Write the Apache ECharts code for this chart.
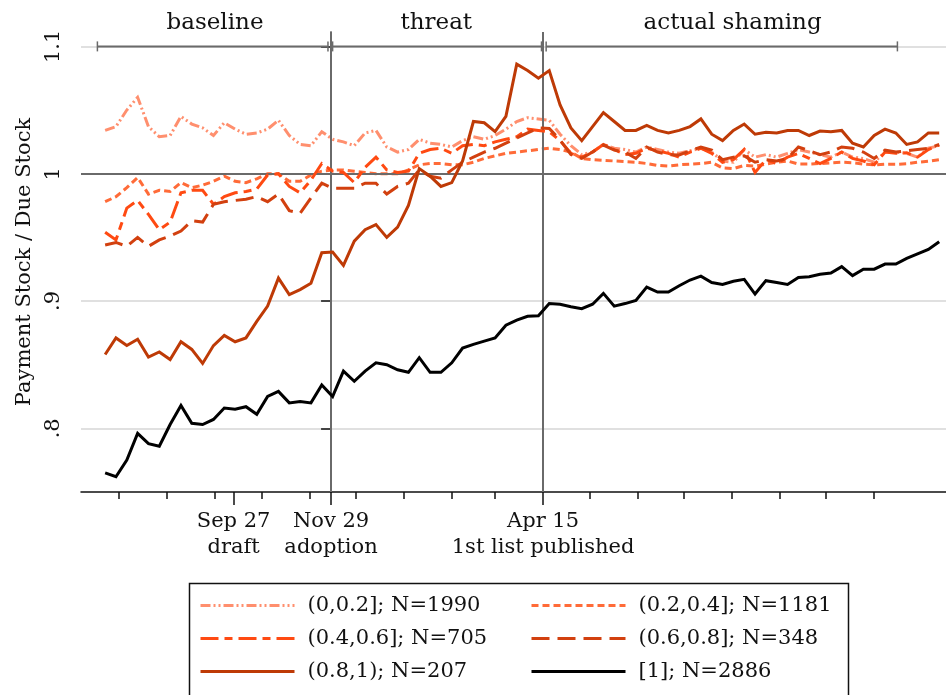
<!DOCTYPE html>
<html>
<head>
<meta charset="utf-8">
<script src="https://cdn.jsdelivr.net/npm/echarts@6/dist/echarts.min.js"></script>
<style>
  html, body { margin: 0; padding: 0; background: #fff; }
  #chart { width: 946px; height: 695px; }
</style>
</head>
<body>
<div id="chart"></div>
<script>
// Weeks relative to the adoption week (week 0 = Nov 30 observation)
const weeks = [-21,-20,-19,-18,-17,-16,-15,-14,-13,-12,-11,-10,-9,-8,-7,-6,-5,-4,-3,-2,-1,
  0,1,2,3,4,5,6,7,8,9,10,11,12,13,14,15,16,17,18,19,20,21,22,23,24,25,26,27,28,29,30,
  31,32,33,34,35,36,37,38,39,40,41,42,43,44,45,46,47,48,49,50,51,52,53,54,55,56];

// Payment stock / due stock by prior payment share group
const share00to02 = [1.034,1.037,1.050,1.060,1.037,1.029,1.030,1.045,1.039,1.036,1.030,1.040,1.035,1.031,1.032,1.035,1.042,1.030,1.023,1.022,1.033,1.027,
  1.025,1.022,1.032,1.034,1.021,1.017,1.019,1.027,1.024,1.023,1.021,1.026,
  1.029,1.027,1.030,1.035,1.041,1.044,1.043,1.042,1.031,1.022,1.015,
  1.017,1.023,1.020,1.019,1.017,1.021,1.019,1.017,1.016,1.018,1.020,1.017,
  1.010,1.009,1.019,1.013,1.015,1.013,1.016,1.019,1.017,1.015,1.013,1.017,1.013,1.012,1.009,1.017,1.017,1.016,1.013,1.020,1.022];
const share02to04 = [0.978,0.982,0.989,0.997,0.984,0.987,0.986,0.993,0.989,0.991,0.994,0.998,0.994,0.993,0.996,1.000,1.000,0.994,0.994,0.999,1.002,1.003,
  1.003,1.002,1.001,1.000,1.000,1.000,1.003,1.007,1.008,1.008,1.007,1.007,
  1.009,1.012,1.014,1.016,1.017,1.018,1.019,1.020,1.019,1.017,1.012,
  1.011,1.0105,1.010,1.0095,1.009,1.008,1.0065,1.006,1.007,1.0075,1.008,1.009,
  1.0045,1.004,1.0065,1.006,1.0075,1.009,1.010,1.0076,1.0076,1.008,1.0085,1.009,1.0086,1.0076,1.007,1.0074,1.0074,1.0078,1.009,1.0098,1.011];
const share04to06 = [0.954,0.948,0.973,0.979,0.968,0.956,0.962,0.985,0.987,0.987,0.976,0.982,0.985,0.986,0.988,0.999,1.000,0.990,0.985,0.995,1.008,1.002,
  1.001,0.993,1.005,1.013,1.003,1.001,1.002,1.016,1.019,1.020,1.016,1.022,
  1.023,1.022,1.025,1.027,1.029,1.035,1.034,1.033,1.026,1.016,1.013,
  1.017,1.023,1.019,1.015,1.016,1.020,1.018,1.016,1.013,1.017,1.020,1.016,
  1.009,1.011,1.019,1.001,1.011,1.008,1.013,1.016,1.012,1.008,1.012,1.017,1.012,1.010,1.007,1.017,1.016,1.0165,1.013,1.019,1.0225];
const share06to08 = [0.944,0.946,0.943,0.950,0.943,0.948,0.951,0.955,0.963,0.962,0.976,0.978,0.979,0.980,0.982,0.978,0.984,0.971,0.969,0.981,0.9925,0.9885,
  0.9885,0.9885,0.9925,0.9925,0.984,0.990,0.9925,1.003,0.998,0.9965,1.003,1.009,
  1.013,1.017,1.020,1.024,1.028,1.032,1.036,1.0355,1.0265,1.015,1.012,
  1.017,1.0225,1.0185,1.017,1.012,1.021,1.017,1.015,1.0147,1.018,1.021,1.0185,
  1.011,1.013,1.014,1.009,1.011,1.010,1.012,1.021,1.018,1.015,1.017,1.021,1.020,1.017,1.012,1.0185,1.017,1.018,1.019,1.020,1.023];
const share08to1 = [0.858,0.871,0.865,0.870,0.856,0.860,0.854,0.868,0.862,0.851,0.865,0.873,0.868,0.871,0.884,0.896,0.918,0.905,0.909,0.914,0.938,0.9385,
  0.928,0.947,0.956,0.960,0.950,0.958,0.975,1.004,0.998,0.990,0.993,1.010,
  1.041,1.040,1.033,1.045,1.086,1.081,1.075,1.081,1.054,1.036,1.026,
  1.037,1.048,1.041,1.034,1.034,1.038,1.034,1.032,1.034,1.037,1.043,1.031,
  1.026,1.034,1.039,1.031,1.0325,1.032,1.034,1.034,1.030,1.0335,1.033,1.034,1.024,1.021,1.030,1.035,1.032,1.023,1.025,1.032,1.032];
const share1 = [0.765,0.762,0.775,0.796,0.788,0.786,0.803,0.818,0.804,0.803,0.807,0.816,0.815,0.817,0.811,0.825,0.829,0.820,0.821,0.820,0.834,0.825,
  0.845,0.837,0.845,0.8515,0.850,0.846,0.844,0.8555,0.844,0.844,0.8515,0.863,
  0.866,0.8685,0.871,0.881,0.885,0.888,0.8885,0.898,0.8975,0.8955,0.894,
  0.8975,0.906,0.896,0.898,0.9005,0.911,0.907,0.907,0.912,0.9165,0.9195,0.9145,
  0.913,0.9155,0.917,0.9055,0.916,0.9145,0.913,0.9185,0.919,0.921,0.922,0.927,0.920,0.925,0.925,0.929,0.929,0.9335,0.937,0.9405,0.9465];

const groupNames = ['(0,0.2]; N=1990', '(0.2,0.4]; N=1181', '(0.4,0.6]; N=705',
                    '(0.6,0.8]; N=348', '(0.8,1); N=207', '[1]; N=2886'];

// Time axis in days relative to the Nov 29 adoption date
const monthTickDays = [-137,-106,-75,-45,-14,16,47,78,106,137,167,198,228,259,290,320,351];
const eventDays = [-63, 0, 137];
const eventLabels = ['Sep 27\ndraft', 'Nov 29\nadoption', 'Apr 15\n1st list published'];

const yTicks = [0.8, 0.9, 1, 1.1];
const yTickLabels = ['.8', '.9', '1', '1.1'];
const referenceLevel = 1;

const periods = [
  { label: 'baseline',       from: -151, to: -2,  labelAt: -75 },
  { label: 'threat',         from: 1,    to: 136, labelAt: 68 },
  { label: 'actual shaming', from: 139,  to: 366, labelAt: 259.5 }
];
const periodLevel = 1.1;

const FONT = '"DejaVu Serif", "Liberation Serif", serif';
const DAYS_PER_WEEK = 7, WEEK_DAY_SHIFT = 1;
const xDays = weeks.map(w => w * DAYS_PER_WEEK + WEEK_DAY_SHIFT);
const pair = vals => vals.map((v, i) => [xDays[i], v]);

const styles = [
  { color: '#FF8F6E', type: [10, 3, 2, 3, 2, 3] },
  { color: '#FF6B38', type: [7, 4] },
  { color: '#FF4A12', type: [18, 6, 8, 6] },
  { color: '#D2400F', type: [18, 8] },
  { color: '#BE3A06', type: 'solid' },
  { color: '#000000', type: 'solid' }
];
const values = [share00to02, share02to04, share04to06, share06to08, share08to1, share1];

const xMin = -161.6, xMax = 397.4;

const chart = echarts.init(document.getElementById('chart'), null, { renderer: 'canvas' });

const lineSeries = values.map((vals, i) => ({
  name: groupNames[i],
  type: 'line',
  data: pair(vals),
  showSymbol: false,
  symbol: 'none',
  z: 3 + i,
  lineStyle: { width: 3, color: styles[i].color, type: styles[i].type, cap: 'butt', join: 'miter' },
  itemStyle: { color: styles[i].color },
  emphasis: { disabled: true }
}));

const legendCommon = {
  orient: 'vertical', top: 593, padding: 0,
  itemWidth: 94, itemHeight: 14, itemGap: 8,
  itemStyle: { opacity: 0, color: 'rgba(0,0,0,0)', borderWidth: 0 },
  lineStyle: { width: 'inherit', type: 'inherit', color: 'inherit' },
  textStyle: { fontFamily: FONT, fontSize: 21, lineHeight: 25, color: '#111', padding: [0, 0, 0, 8] },
  selectedMode: false
};

const option = {
  animation: false,
  backgroundColor: '#fff',
  grid: { left: 81, right: 0, top: 32, bottom: 203, containLabel: false },
  xAxis: [
    {
      type: 'value', min: xMin, max: xMax, position: 'bottom',
      axisLine: { show: true, onZero: false, lineStyle: { color: '#111', width: 1.5 } },
      axisTick: { show: true, length: 7, customValues: monthTickDays, lineStyle: { color: '#111', width: 1.5 } },
      axisLabel: { show: false },
      splitLine: { show: false }
    },
    {
      type: 'value', min: xMin, max: xMax, position: 'bottom', offset: 0,
      axisLine: { show: false, onZero: false },
      axisTick: { show: true, length: 13, customValues: eventDays, lineStyle: { color: '#111', width: 1.5 } },
      axisLabel: {
        show: true, customValues: eventDays, margin: 17,
        fontFamily: FONT, fontSize: 21, lineHeight: 26, color: '#111',
        formatter: v => eventLabels[eventDays.indexOf(v)] ?? ''
      },
      splitLine: { show: false }
    }
  ],
  yAxis: {
    type: 'value', min: 0.75, max: 1.1113,
    axisLine: { show: true, lineStyle: { color: '#111', width: 1.5 } },
    axisTick: { show: true, length: 10, customValues: yTicks, lineStyle: { color: '#111', width: 1.5 } },
    axisLabel: {
      customValues: yTicks, rotate: 90, margin: 17,
      fontFamily: FONT, fontSize: 21, color: '#111',
      formatter: v => yTickLabels[yTicks.findIndex(t => Math.abs(t - v) < 1e-6)] ?? ''
    },
    splitLine: { show: true, lineStyle: { color: '#d6d6d6', width: 1.5 } },
    name: 'Payment Stock / Due Stock', nameLocation: 'middle', nameGap: 46, nameRotate: 90,
    nameTextStyle: { fontFamily: FONT, fontSize: 21, color: '#111' }
  },
  legend: [
    Object.assign({ data: [groupNames[0], groupNames[2], groupNames[4]], left: 199 }, legendCommon),
    Object.assign({ data: [groupNames[1], groupNames[3], groupNames[5]], left: 530 }, legendCommon)
  ],
  graphic: [
    { type: 'rect', left: 187, top: 581, z: 0,
      shape: { width: 659, height: 140 },
      style: { fill: 'none', stroke: '#111', lineWidth: 1.5 } }
  ],
  series: [
    {
      // reference lines: parity level and policy event dates
      type: 'line', data: [], z: 1, silent: true,
      markLine: {
        silent: true, symbol: 'none', animation: false,
        label: { show: false },
        lineStyle: { color: '#6a6a6a', width: 2, type: 'solid' },
        data: [
          { yAxis: referenceLevel },
          { xAxis: eventDays[1] },
          { xAxis: eventDays[2] }
        ]
      }
    },
    {
      // period brackets across the top
      type: 'custom', clip: false, silent: true, z: 2,
      data: periods.map(p => [p.from, p.to, p.labelAt]),
      renderItem: (params, api) => {
        const a = api.coord([api.value(0), periodLevel]);
        const b = api.coord([api.value(1), periodLevel]);
        const c = api.coord([api.value(2), periodLevel]);
        const stroke = '#6a6a6a';
        return {
          type: 'group',
          children: [
            { type: 'line', shape: { x1: a[0], y1: a[1], x2: b[0], y2: b[1] }, style: { stroke, lineWidth: 2 } },
            { type: 'line', shape: { x1: a[0], y1: a[1] - 5, x2: a[0], y2: a[1] + 5 }, style: { stroke, lineWidth: 1.5 } },
            { type: 'line', shape: { x1: b[0], y1: b[1] - 5, x2: b[0], y2: b[1] + 5 }, style: { stroke, lineWidth: 1.5 } },
            { type: 'text', x: c[0], y: a[1] - 23,
              style: { text: periods[params.dataIndex].label, font: '23px ' + FONT, fill: '#111',
                       align: 'center', verticalAlign: 'middle' } }
          ]
        };
      }
    },
    ...lineSeries
  ]
};

chart.setOption(option);
</script>
</body>
</html>
